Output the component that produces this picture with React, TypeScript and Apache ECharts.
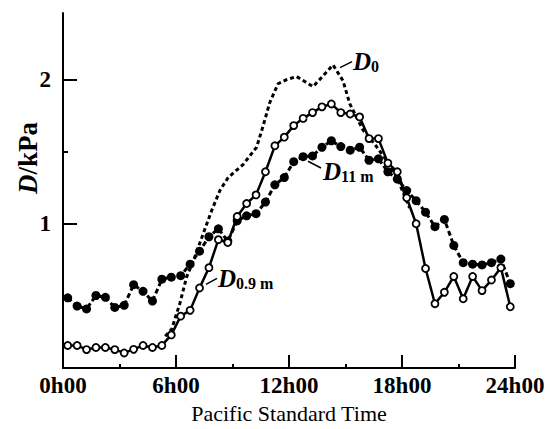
import { useEffect, useRef } from "react";
import * as echarts from "echarts";

// ---- data ----
const hourTicks = [0, 6, 12, 18, 24];
const hourMajorTicks = [6, 12, 18, 24];
const hourMinorTicks = [3, 9, 15, 21];
const dTicks = [1, 2];
const dMinorTicks = [1.5];

const sampleTimes = [
  0.25, 0.75, 1.25, 1.75, 2.25, 2.75, 3.25, 3.75, 4.25, 4.75, 5.25, 5.75,
  6.25, 6.75, 7.25, 7.75, 8.25, 8.75, 9.25, 9.75, 10.25, 10.75, 11.25, 11.75,
  12.25, 12.75, 13.25, 13.75, 14.25, 14.75, 15.25, 15.75, 16.25, 16.75, 17.25, 17.75,
  18.25, 18.75, 19.25, 19.75, 20.25, 20.75, 21.25, 21.75, 22.25, 22.75, 23.25, 23.75,
];

const d09Values = [
  0.157, 0.157, 0.128, 0.143, 0.143, 0.128, 0.105, 0.13, 0.157, 0.143, 0.157, 0.23,
  0.36, 0.4, 0.555, 0.696, 0.89, 0.87, 1.05, 1.14, 1.2, 1.36, 1.54, 1.6,
  1.68, 1.73, 1.77, 1.81, 1.83, 1.77, 1.76, 1.74, 1.59, 1.59, 1.42, 1.36,
  1.18, 1.0, 0.69, 0.446, 0.525, 0.635, 0.48, 0.635, 0.537, 0.61, 0.696, 0.425,
];

const d11Values = [
  0.487, 0.43, 0.41, 0.503, 0.49, 0.42, 0.435, 0.578, 0.532, 0.464, 0.616, 0.63,
  0.64, 0.72, 0.81, 0.91, 0.965, 0.88, 1.02, 1.055, 1.07, 1.15, 1.27, 1.32,
  1.43, 1.465, 1.47, 1.53, 1.575, 1.535, 1.51, 1.53, 1.44, 1.45, 1.36, 1.31,
  1.23, 1.16, 1.08, 0.98, 1.03, 0.85, 0.73, 0.72, 0.715, 0.73, 0.755, 0.585,
];

const d0Times = [
  5.43, 5.77, 6.21, 6.56, 7.0, 7.44, 7.89, 8.33, 8.77, 9.56, 10.28, 10.63, 10.98,
  11.42, 11.9, 12.4, 13.28, 14.34, 14.87, 15.23, 15.58, 15.93, 16.5, 17.17, 17.7, 18.4,
];
const d0Values = [
  0.22, 0.27, 0.45, 0.63, 0.77, 0.93, 1.09, 1.23, 1.32, 1.41, 1.53, 1.68, 1.84,
  1.97, 2.0, 2.02, 1.95, 2.1, 1.99, 1.83, 1.74, 1.65, 1.56, 1.44, 1.33, 1.11,
];

// annotation anchors in data coordinates [hour, kPa]
const annotations = [
  { main: "D", sub: "0", from: [14.71, 2.082], to: [15.35, 2.123], at: [15.4, 2.068] },
  { main: "D", sub: "11 m", from: [13.01, 1.433], to: [13.7, 1.386], at: [13.81, 1.304] },
  { main: "D", sub: "0.9 m", from: [7.59, 0.58], to: [8.18, 0.621], at: [8.23, 0.56] },
];

const SERIF = "Liberation Serif, Times New Roman, serif";

export default function App() {
  const ref = useRef<HTMLDivElement>(null);

  useEffect(() => {
    const chart = echarts.init(ref.current!, null, { renderer: "svg" });
    const black = "#000";
    const axisLineStyle = { color: black, width: 2 };

    chart.setOption({
      animation: false,
      backgroundColor: "#fff",
      grid: { left: 63, right: 35, top: 13, bottom: 56, containLabel: false },
      xAxis: [
        {
          type: "value",
          min: 0,
          max: 24,
          position: "bottom",
          axisLine: { show: true, onZero: false, lineStyle: axisLineStyle },
          axisTick: { show: true, inside: true, length: 13, customValues: hourMajorTicks, lineStyle: axisLineStyle },
          axisLabel: {
            customValues: hourTicks,
            formatter: (v: number) => `${v}h00`,
            color: black,
            fontFamily: SERIF,
            fontWeight: "bold",
            fontSize: 23,
            margin: 6,
          },
          splitLine: { show: false },
          name: "Pacific Standard Time",
          nameLocation: "middle",
          nameGap: 31,
          nameTextStyle: { color: black, fontFamily: SERIF, fontSize: 22 },
        },
        {
          type: "value",
          min: 0,
          max: 24,
          position: "bottom",
          axisLine: { show: false },
          axisTick: { show: true, inside: true, length: 4, customValues: hourMinorTicks, lineStyle: axisLineStyle },
          axisLabel: { show: false },
          splitLine: { show: false },
        },
      ],
      yAxis: [
        {
          type: "value",
          min: 0,
          max: 2.46,
          position: "left",
          axisLine: { show: true, onZero: false, lineStyle: axisLineStyle },
          axisTick: { show: true, inside: true, length: 14, customValues: dTicks, lineStyle: axisLineStyle },
          axisLabel: {
            customValues: dTicks,
            color: black,
            fontFamily: SERIF,
            fontWeight: "bold",
            fontSize: 23,
            margin: 12,
          },
          splitLine: { show: false },
        },
        {
          type: "value",
          min: 0,
          max: 2.46,
          position: "left",
          axisLine: { show: false },
          axisTick: { show: true, inside: true, length: 5, customValues: dMinorTicks, lineStyle: axisLineStyle },
          axisLabel: { show: false },
          splitLine: { show: false },
        },
      ],
      series: [
        {
          name: "D0",
          type: "line",
          data: d0Times.map((t, i) => [t, d0Values[i]]),
          symbol: "none",
          lineStyle: { color: black, width: 3, type: [4, 3] },
          z: 1,
        },
        {
          name: "D11m",
          type: "line",
          data: sampleTimes.map((t, i) => [t, d11Values[i]]),
          symbol: "circle",
          symbolSize: 9,
          itemStyle: { color: black },
          lineStyle: { color: black, width: 3, type: [5, 3] },
          z: 2,
        },
        {
          name: "D0.9m",
          type: "line",
          data: sampleTimes.map((t, i) => [t, d09Values[i]]),
          symbol: "circle",
          symbolSize: 7,
          showAllSymbol: true,
          itemStyle: { color: "#fff", borderColor: black, borderWidth: 1.8 },
          lineStyle: { color: black, width: 2.5 },
          z: 3,
        },
      ],
    });

    const toPx = (p: number[]) =>
      chart.convertToPixel({ xAxisIndex: 0, yAxisIndex: 0 }, p) as number[];

    const graphics: any[] = [];
    annotations.forEach((a) => {
      const f = toPx(a.from);
      const t = toPx(a.to);
      const at = toPx(a.at);
      graphics.push({
        type: "line",
        shape: { x1: f[0], y1: f[1], x2: t[0], y2: t[1] },
        style: { stroke: black, lineWidth: 1.5 },
        z: 10,
      });
      graphics.push({
        type: "text",
        x: at[0],
        y: at[1] - 0.34 * 25,
        style: {
          text: a.main,
          fill: black,
          fontFamily: SERIF,
          fontStyle: "italic",
          fontWeight: "bold",
          fontSize: 25,
          align: "left",
          verticalAlign: "middle",
        },
        z: 10,
      });
      graphics.push({
        type: "text",
        x: at[0] + 18,
        y: at[1] + 2 - 0.34 * 16,
        style: {
          text: a.sub,
          fill: black,
          fontFamily: SERIF,
          fontWeight: "bold",
          fontSize: 16,
          align: "left",
          verticalAlign: "middle",
        },
        z: 10,
      });
    });

    graphics.push({
      type: "text",
      x: 28,
      y: 158,
      rotation: Math.PI / 2,
      style: {
        text: "{i|D}{n|/kPa}",
        align: "center",
        verticalAlign: "middle",
        rich: {
          i: { fontFamily: SERIF, fontStyle: "italic", fontWeight: "bold", fontSize: 27, fill: black },
          n: { fontFamily: SERIF, fontWeight: "bold", fontSize: 27, fill: black },
        },
      },
    });

    chart.setOption({ graphic: graphics });

    return () => chart.dispose();
  }, []);

  return (
    <div
      ref={ref}
      style={{ position: "fixed", left: 0, top: 0, width: 550, height: 429, background: "#fff" }}
    />
  );
}
